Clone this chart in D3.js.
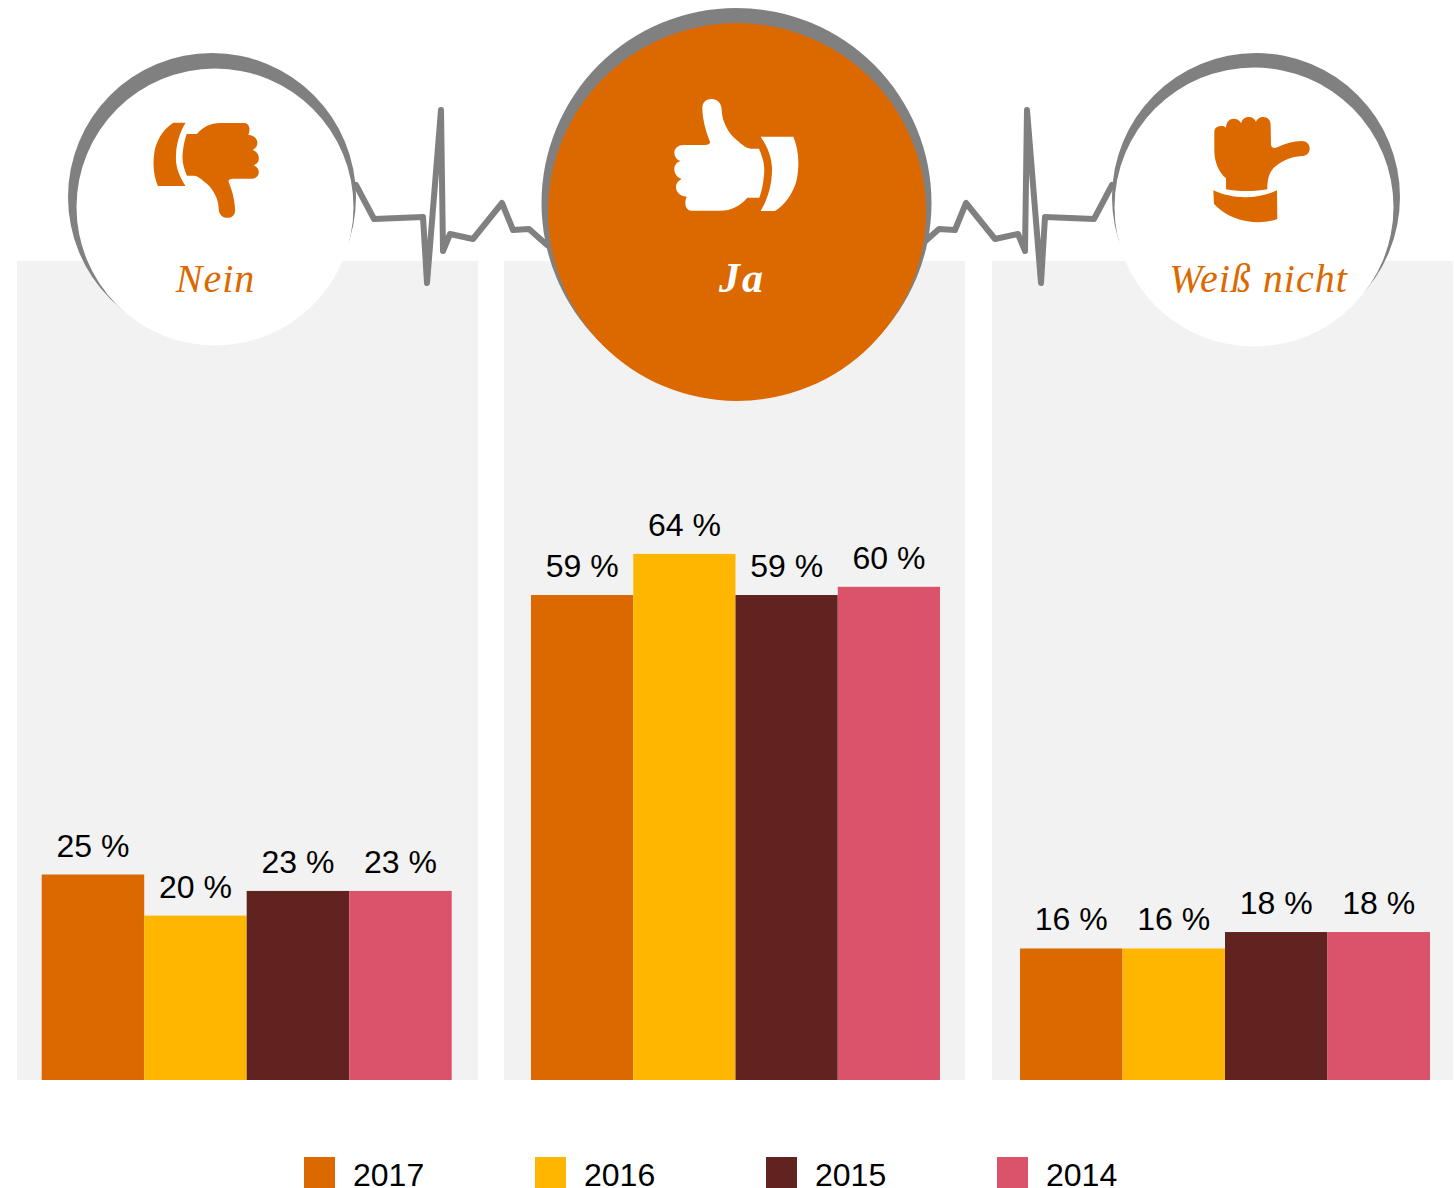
<!DOCTYPE html>
<html lang="de">
<head>
<meta charset="utf-8">
<title>Umfrage 2014-2017</title>
<script src="https://cdn.jsdelivr.net/npm/d3@7"></script>
<style>
	html, body { margin: 0; padding: 0; background: #fff; }
	svg { display: block; }
</style>
</head>
<body>
<div id="chart"></div>
<script>
const years = ['2017', '2016', '2015', '2014'];
const answers = ['Nein', 'Ja', 'Weiß nicht'];
const neinValues = [25, 20, 23, 23];
const jaValues = [59, 64, 59, 60];
const weissValues = [16, 16, 18, 18];
const yearColors = ['#db6900', '#ffb600', '#602320', '#db536a'];

const W = 1454, H = 1188;
const grey = '#808080', orange = '#db6900';

// hand outlines, traced in a 3x grid
const handUp = 'M210 185C200 160 188 125 187 85C187 65 200 57 215 57C232 57 245 70 245 90C246 125 265 160 290 180C305 193 318 205 332 206L357 206C370 235 375 260 372 285C370 310 365 335 358 353L322 353C300 378 275 392 240 392L155 392C140 392 130 375 140 350C120 350 108 335 108 322C108 310 115 302 125 297C110 292 103 280 103 268C103 255 110 247 122 243C110 240 103 228 103 218C103 205 115 195 130 195L195 195C205 195 212 190 210 185Z'
	+ 'M362 170L460 170C475 205 480 250 470 300C460 340 435 375 405 393L362 393C385 355 397 310 396 265C395 230 382 200 362 170Z';
const handSide = 'M73 95C73 82 85 78 95 78C100 78 106 80 108 84C108 65 120 56 131 56C142 56 150 62 153 70C156 58 165 51 176 51C187 51 194 56 198 66C200 57 210 51 220 51C233 51 242 60 242 75L243 135C245 143 252 146 262 142C285 130 310 124 335 123C350 123 359 133 359 146C359 158 350 168 335 168C300 170 270 185 250 205C238 220 232 235 232 268C200 275 140 275 108 268L108 235C85 215 73 185 73 150Z'
	+ 'M70 271C125 297 200 300 261 271L262 357C205 378 120 365 72 312Z';
const pulse = 'M356 185L374 219L423 217L427 283L441 110L443 251L450 234L473 239L502 203L513 230L529 229L547 245';

const panels = [
	{values: neinValues, x0: 17, barX0: 41.7, barX1: 451.7},
	{values: jaValues, x0: 504, barX0: 531, barX1: 940},
	{values: weissValues, x0: 992, barX0: 1020, barX1: 1430}
];

const badges = [
	{cx: 212, cy: 197, r: 144, fx: 215, fy: 207, fr: 138.5, fill: '#fff', ink: orange, labelX: 215.5, weight: 'normal', size: 40, spacing: 1, icon: handUp, iconT: 'translate(288,234) rotate(180) scale(.283)', iconFill: orange},
	{cx: 736.5, cy: 203, r: 195, fx: 737, fy: 212, fr: 189, fill: orange, ink: '#fff', labelX: 742, weight: 'bold', size: 42, spacing: 2, icon: handUp, iconT: 'translate(640,80) scale(.3333)', iconFill: '#fff'},
	{cx: 1256, cy: 197, r: 144, fx: 1254, fy: 207, fr: 139.5, fill: '#fff', ink: orange, labelX: 1258.5, weight: 'normal', size: 40, spacing: 1, icon: handSide, iconT: 'translate(1190,100) scale(.3333)', iconFill: orange}
];

const svg = d3.select('#chart').append('svg')
	.attr('width', W)
	.attr('height', H)
	.attr('viewBox', `0 0 ${W} ${H}`);

const y = d3.scaleLinear().domain([0, 100]).range([1080, 258]);
const color = d3.scaleOrdinal().domain(years).range(yearColors);

svg.append('g').selectAll('rect')
	.data(panels)
	.enter().append('rect')
	.attr('x', d => d.x0)
	.attr('y', 261)
	.attr('width', 461)
	.attr('height', 819)
	.attr('fill', '#f2f2f2');

// bars and their labels, one group per answer
panels.forEach(p => {
	const x = d3.scaleBand().domain(years).range([p.barX0, p.barX1]);
	const g = svg.append('g');
	const rows = years.map((year, i) => ({year: year, value: p.values[i]}));

	g.selectAll('rect')
		.data(rows)
		.enter().append('rect')
		.attr('x', d => x(d.year))
		.attr('y', d => y(d.value))
		.attr('width', x.bandwidth())
		.attr('height', d => y(0) - y(d.value))
		.attr('fill', d => color(d.year));

	g.selectAll('text')
		.data(rows)
		.enter().append('text')
		.attr('x', d => x(d.year) + x.bandwidth() / 2)
		.attr('y', d => y(d.value) - 18)
		.attr('text-anchor', 'middle')
		.attr('font-family', '"Liberation Sans", Arial, sans-serif')
		.attr('font-size', 32)
		.attr('fill', '#000')
		.text(d => `${d.value} %`);
});

// heartbeat lines between the circles, the right one is the left one mirrored
const pulseG = svg.append('g')
	.attr('fill', 'none')
	.attr('stroke', grey)
	.attr('stroke-width', 6)
	.attr('stroke-linejoin', 'round')
	.attr('stroke-linecap', 'round');
pulseG.append('path').attr('d', pulse);
pulseG.append('path').attr('d', pulse).attr('transform', `translate(1468,0) scale(-1,1)`);

const badge = svg.append('g').selectAll('g')
	.data(badges)
	.enter().append('g');

badge.append('circle')
	.attr('cx', d => d.cx)
	.attr('cy', d => d.cy)
	.attr('r', d => d.r)
	.attr('fill', grey);

badge.append('circle')
	.attr('cx', d => d.fx)
	.attr('cy', d => d.fy)
	.attr('r', d => d.fr)
	.attr('fill', d => d.fill);

badge.append('path')
	.attr('d', d => d.icon)
	.attr('transform', d => d.iconT)
	.attr('fill', d => d.iconFill);

badge.append('text')
	.data(answers.map((a, i) => Object.assign({name: a}, badges[i])))
	.attr('x', d => d.labelX)
	.attr('y', 292)
	.attr('text-anchor', 'middle')
	.attr('font-family', '"Liberation Serif", serif')
	.attr('font-style', 'italic')
	.attr('font-weight', d => d.weight)
	.attr('font-size', d => d.size)
	.attr('letter-spacing', d => d.spacing)
	.attr('fill', d => d.ink)
	.text(d => d.name);

// legend
const legendX = d3.scaleLinear().domain([0, 3]).range([304, 997]);
const legend = svg.append('g').selectAll('g')
	.data(years)
	.enter().append('g')
	.attr('transform', (d, i) => `translate(${legendX(i)},1157)`);

legend.append('rect')
	.attr('width', 31)
	.attr('height', 31)
	.attr('fill', d => color(d));

legend.append('text')
	.attr('x', 49)
	.attr('y', 29)
	.attr('font-family', '"Liberation Sans", Arial, sans-serif')
	.attr('font-size', 32)
	.attr('fill', '#000')
	.text(d => d);
</script>
</body>
</html>
